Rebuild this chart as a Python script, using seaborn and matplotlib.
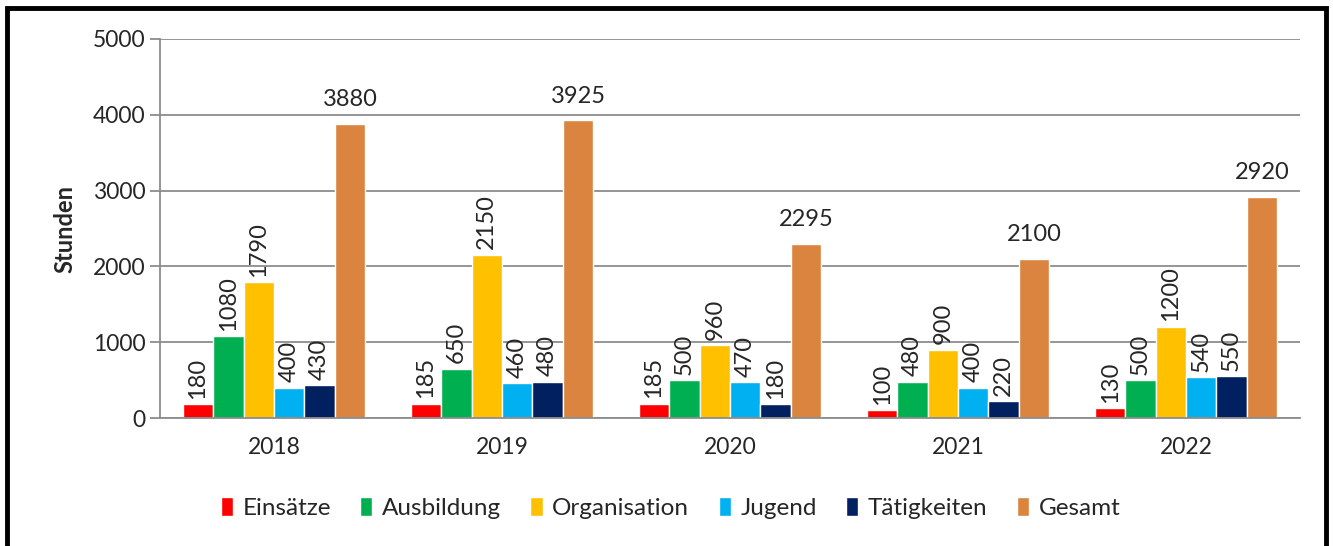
import numpy as np
import pandas as pd
import seaborn as sns
import matplotlib.pyplot as plt
from matplotlib.patches import Rectangle

jahre = ["2018", "2019", "2020", "2021", "2022"]
kategorien = ["Einsätze", "Ausbildung", "Organisation", "Jugend", "Tätigkeiten", "Gesamt"]
einsaetze = [180, 185, 185, 100, 130]
ausbildung = [1080, 650, 500, 480, 500]
organisation = [1790, 2150, 960, 900, 1200]
jugend = [400, 460, 470, 400, 540]
taetigkeiten = [430, 480, 180, 220, 550]
gesamt = [3880, 3925, 2295, 2100, 2920]
farben = ["#FF0000", "#00B050", "#FFC000", "#00B0F0", "#002060", "#DA843F"]

werte = [einsaetze, ausbildung, organisation, jugend, taetigkeiten, gesamt]
rows = []
for kat, vals in zip(kategorien, werte):
    for j, v in zip(jahre, vals):
        rows.append({"Jahr": j, "Kategorie": kat, "Stunden": v})
df = pd.DataFrame(rows)

sns.set_style("white")
plt.rcParams['font.family'] = ['Lato', 'DejaVu Sans']

fig = plt.figure(figsize=(13.33, 5.46), dpi=100)
ax = fig.add_axes([0.12, 0.2344, 0.8553, 0.6942])

sns.barplot(data=df, x="Jahr", y="Stunden", hue="Kategorie", palette=farben,
            width=0.8, saturation=1, ax=ax, legend=True)

for i, cont in enumerate(ax.containers):
    if kategorien[i] == "Gesamt":
        ax.bar_label(cont, labels=[str(v) for v in gesamt], padding=10, fontsize=17)
    else:
        ax.bar_label(cont, labels=[str(v) for v in werte[i]], padding=4,
                     rotation=90, fontsize=17)

ax.set_ylim(0, 5000)
ax.set_xlim(-0.5, 4.5)
ax.set_yticks(range(0, 5001, 1000))
ax.yaxis.grid(True, color="#8c8c8c", linewidth=1.3)
ax.set_axisbelow(True)
for s in ["top", "right"]:
    ax.spines[s].set_visible(False)
for s in ["left", "bottom"]:
    ax.spines[s].set_color("#8c8c8c")
    ax.spines[s].set_linewidth(1.3)

ax.set_xticks(np.arange(5))
ax.set_xticks(np.arange(-0.5, 5, 1), minor=True)
ax.tick_params(axis="x", which="major", length=0, labelsize=16.5, pad=14)
ax.tick_params(axis="x", which="minor", length=8, width=1.3, color="#8c8c8c")
ax.tick_params(axis="y", length=7, width=1.3, color="#8c8c8c", labelsize=16.5, left=True)
ax.set_xlabel("")
ax.set_ylabel("Stunden", fontsize=17, fontweight="bold", labelpad=12)

handles, labels = ax.get_legend_handles_labels()
ax.get_legend().remove()
fig.legend(handles, labels, loc="center", bbox_to_anchor=(0.503, 0.07), ncol=6,
           frameon=False, fontsize=17.5, handlelength=0.5, handleheight=0.85,
           handletextpad=0.4, columnspacing=1.2)

fig.patches.append(Rectangle((0.005, -0.02), 0.99, 1.005, transform=fig.transFigure,
                             fill=False, edgecolor="black", linewidth=3.5))

fig.savefig("out.png", dpi=100)
